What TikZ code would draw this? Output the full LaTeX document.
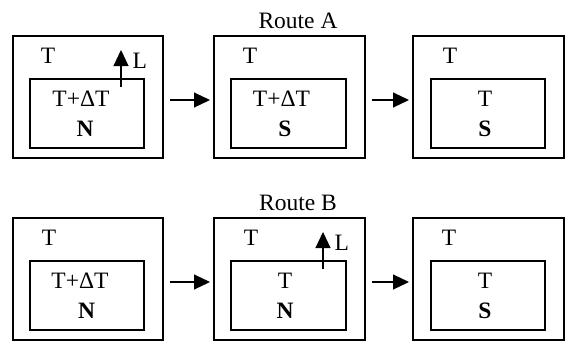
\documentclass[tikz,border=0pt]{standalone}
\usepackage{fontspec}
\setmainfont{Liberation Serif}
\usetikzlibrary{arrows.meta}
\begin{document}
\begin{tikzpicture}[x=1pt,y=-1pt, line width=1.1pt,
  outerbox/.style={draw, rectangle, inner sep=0pt, outer sep=0pt, minimum width=150pt, minimum height=122pt},
  innerbox/.style={draw, rectangle, inner sep=0pt, outer sep=0pt, minimum width=114pt, minimum height=69pt},
  lbl/.style={anchor=base, inner sep=0pt, font=\fontsize{23.5}{28}\selectfont},
  flow/.style={-{Triangle[length=16pt,width=15pt]}, shorten <=7pt, shorten >=4pt},
  rise/.style={-{Triangle[length=16pt,width=15pt]}}]
\useasboundingbox (0,0) rectangle (565,341);
% Route A
\node[outerbox] (a1) at (88,97) {};
\node[innerbox] (ai1) at (87,113.5) {};
\node[outerbox, minimum width=151pt] (a2) at (289.5,97) {};
\node[innerbox, minimum width=115pt] (ai2) at (288.5,113.5) {};
\node[outerbox, minimum width=151pt] (a3) at (488.5,97) {};
\node[innerbox] (ai3) at (488,113.5) {};
\node[lbl] (ra) at (298,28) {Route A};
\node[lbl] (at1) at (48,63) {T};
\node[lbl] (at2) at (250,63) {T};
\node[lbl] (at3) at (450,63) {T};
\node[lbl] (ad1) at (81,106) {T+ΔT};
\node[lbl] (an1) at (85,136) {\textbf{N}};
\node[lbl] (ad2) at (281.5,106) {T+ΔT};
\node[lbl] (as2) at (285,136) {\textbf{S}};
\node[lbl] (at4) at (485,106) {T};
\node[lbl] (as3) at (485,136) {\textbf{S}};
\coordinate (aLb) at (121,87);
\coordinate (aLt) at (121,50);
\draw[rise] (aLb) -- (aLt);
\node[lbl, anchor=base west] (aL) at (132,68) {L};
\draw[flow] ([yshift=-3pt]a1.east) -- ([yshift=-3pt]a2.west);
\draw[flow] ([yshift=-3pt]a2.east) -- ([yshift=-3pt]a3.west);
% Route B
\node[outerbox] (b1) at (88,279) {};
\node[innerbox] (bi1) at (87,295.5) {};
\node[outerbox, minimum width=151pt] (b2) at (289.5,279) {};
\node[innerbox, minimum width=115pt] (bi2) at (288.5,295.5) {};
\node[outerbox, minimum width=151pt] (b3) at (488.5,279) {};
\node[innerbox] (bi3) at (488,295.5) {};
\node[lbl] (rb) at (298,210) {Route B};
\node[lbl] (bt1) at (49,245) {T};
\node[lbl] (bt2) at (251,245) {T};
\node[lbl] (bt3) at (449,245) {T};
\node[lbl] (bd1) at (80,288) {T+ΔT};
\node[lbl] (bn1) at (86.5,318) {\textbf{N}};
\node[lbl] (bt5) at (285,288) {T};
\node[lbl] (bn2) at (285,318) {\textbf{N}};
\node[lbl] (bt6) at (485,288) {T};
\node[lbl] (bs3) at (485,318) {\textbf{S}};
\coordinate (bLb) at (323,269);
\coordinate (bLt) at (323,232);
\draw[rise] (bLb) -- (bLt);
\node[lbl, anchor=base west] (bL) at (334,250) {L};
\draw[flow] ([yshift=-3pt]b1.east) -- ([yshift=-3pt]b2.west);
\draw[flow] ([yshift=-3pt]b2.east) -- ([yshift=-3pt]b3.west);
\end{tikzpicture}
\end{document}
